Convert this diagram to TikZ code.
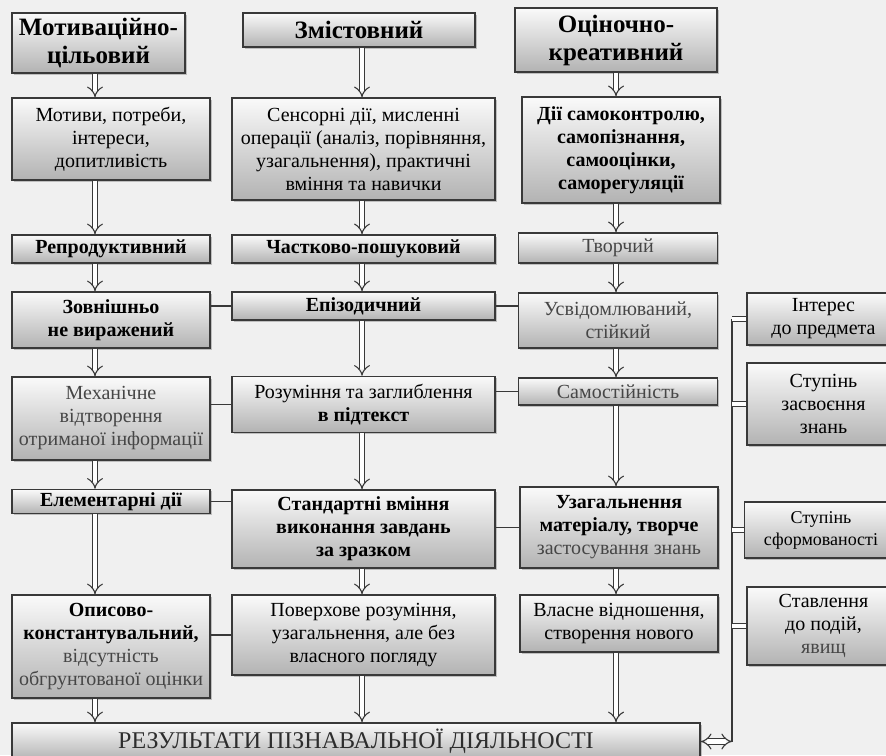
\documentclass[tikz,border=0pt]{standalone}
\usepackage{fontspec}
\setmainfont{Liberation Serif}
\usetikzlibrary{arrows.meta,shadows}

\tikzset{
  box/.style={draw=gray!45!black, line width=1.6pt, top color=gray!4, bottom color=gray!60,
    drop shadow={shadow xshift=1.5pt, shadow yshift=-1.5pt, fill=gray!60, opacity=0.8},
    align=center, inner sep=1pt, font=\fontsize{20}{23}\selectfont},
  bbox/.style={box, font=\fontsize{20}{23}\selectfont\bfseries},
  head/.style={box, font=\fontsize{25}{28}\selectfont\bfseries},
  arr/.style={draw=gray!45!black, line width=1.1pt, double=white, double distance=4.5pt, -{Implies[length=7pt, width=16pt]}},
  feed/.style={draw=gray!45!black, line width=1.1pt, double=white, double distance=4pt},
  link/.style={draw=gray!45!black, line width=1.3pt},
  faint/.style={text=gray!55!black},
}

\begin{document}
\begin{tikzpicture}[x=1pt, y=-1pt]
  \useasboundingbox (0,0) rectangle (886,755);
  \fill[gray!12] (0,0) rectangle (886,755);

  % Column heads
  \node[head, minimum width=173pt, minimum height=60pt] (hA) at (98.5,43) {Мотиваційно-\\цільовий};
  \node[head, minimum width=232pt, minimum height=34pt] (hB) at (359,30) {Змістовний};
  \node[head, minimum width=202pt, minimum height=64pt] (hC) at (616,40) {Оціночно-\\креативний};

  % First column
  \node[box, minimum width=198pt, minimum height=82pt] (motiv) at (111,139) {Мотиви, потреби,\\інтереси,\\допитливість};
  \node[bbox, minimum width=198pt, minimum height=28pt] (reprod) at (111,249) {Репродуктивний};
  \node[bbox, minimum width=198pt, minimum height=56pt] (zovn) at (111,320) {Зовнішньо\\не виражений};
  \node[box, faint, minimum width=198pt, minimum height=83pt] (mech) at (111,418.5) {Механічне\\відтворення\\отриманої інформації};
  \node[bbox, minimum width=198pt, minimum height=24pt] (elem) at (111,501.5) {Елементарні дії};
  \node[box, minimum width=198pt, minimum height=103pt] (opys) at (111,646.5)
    {\textbf{Описово-}\\\textbf{константувальний,}\\{\color{gray!55!black}відсутність}\\{\color{gray!55!black}обгрунтованої оцінки}};

  % Second column
  \node[box, minimum width=263pt, minimum height=102pt] (sens) at (363.5,149)
    {Сенсорні дії, мисленні\\операції (аналіз, порівняння,\\узагальнення), практичні\\вміння та навички};
  \node[bbox, minimum width=263pt, minimum height=28pt] (chastk) at (363.5,249) {Частково-пошуковий};
  \node[bbox, minimum width=263pt, minimum height=28pt] (epiz) at (363.5,306) {Епізодичний};
  \node[box, minimum width=263pt, minimum height=56pt] (rozum) at (363.5,404.5) {Розуміння та заглиблення\\\textbf{в підтекст}};
  \node[bbox, minimum width=263pt, minimum height=78pt] (stand) at (363.5,529) {Стандартні вміння\\виконання завдань\\за зразком};
  \node[box, minimum width=263pt, minimum height=80pt] (poverh) at (363.5,635) {Поверхове розуміння,\\узагальнення, але без\\власного погляду};

  % Third column
  \node[bbox, minimum width=198pt, minimum height=106pt] (dii) at (621,150) {Дії самоконтролю,\\самопізнання,\\самооцінки,\\саморегуляції};
  \node[box, faint, minimum width=199pt, minimum height=30pt] (tvorch) at (618,248) {Творчий};
  \node[box, faint, minimum width=199pt, minimum height=55pt] (usvid) at (618,320.5) {Усвідомлюваний,\\стійкий};
  \node[box, faint, minimum width=199pt, minimum height=27pt] (samost) at (618,391.5) {Самостійність};
  \node[bbox, minimum width=198pt, minimum height=81pt] (uzag) at (619,527.5)
    {Узагальнення\\матеріалу, творче\\{\mdseries\color{gray!55!black}застосування знань}};
  \node[box, minimum width=198pt, minimum height=57pt] (vlasne) at (619,623.5) {Власне відношення,\\створення нового};

  % Criteria on the right
  \node[box, minimum width=153pt, minimum height=52pt] (inter) at (823.5,319) {Інтерес\\до предмета};
  \node[box, minimum width=153pt, minimum height=82pt] (stup1) at (823.5,404) {Ступінь\\засвоєння\\знань};
  \node[box, minimum width=153pt, minimum height=56pt, font=\fontsize{18}{22}\selectfont] (stup2) at (821,530) {Ступінь\\сформованості};
  \node[box, minimum width=153pt, minimum height=78pt] (stavl) at (823.5,626) {Ставлення\\до подій,\\{\color{gray!55!black}явищ}};

  % Result
  \node[box, minimum width=688pt, minimum height=37pt, text=gray!35!black, font=\fontsize{24}{26}\selectfont] (result) at (356,741.5)
    {РЕЗУЛЬТАТИ ПІЗНАВАЛЬНОЇ ДІЯЛЬНОСТІ};

  % Arrow columns
  \coordinate (ax1) at (95,0);
  \coordinate (ax2) at (362,0);
  \coordinate (ax3) at (616,0);
  \coordinate (vl) at (732,0);

  \foreach \a/\b in {hA/motiv, motiv/reprod, reprod/zovn, zovn/mech, mech/elem, elem/opys, opys/result}
    \draw[arr] (\a.south -| ax1) -- (\b.north -| ax1);
  \foreach \a/\b in {hB/sens, sens/chastk, chastk/epiz, epiz/rozum, rozum/stand, stand/poverh, poverh/result}
    \draw[arr] (\a.south -| ax2) -- (\b.north -| ax2);
  \foreach \a/\b in {hC/dii, dii/tvorch, tvorch/usvid, usvid/samost, samost/uzag, uzag/vlasne, vlasne/result}
    \draw[arr] (\a.south -| ax3) -- (\b.north -| ax3);

  % Links across the rows
  \draw[link] (zovn.east |- epiz.west) -- (epiz.west);
  \draw[link] (epiz.east) -- (usvid.west |- epiz.east);
  \draw[link] (mech.east |- rozum.west) -- (rozum.west);
  \draw[link] (rozum.east |- samost.west) -- (samost.west);
  \draw[link] (elem.east) -- (stand.west |- elem.east);
  \draw[link] (stand.east |- uzag.west) -- (uzag.west);
  \draw[link] (opys.east |- poverh.west) -- (poverh.west);

  % Criteria into the result
  \draw[link] (inter.west -| vl) -- (result.east -| vl);
  \foreach \c in {inter, stup1, stup2, stavl}
    \draw[feed] (\c.west) -- (\c.west -| vl);
  \draw[arr, {Implies[length=7pt, width=16pt]}-{Implies[length=7pt, width=16pt]}] (result.east) -- (result.east -| vl);
\end{tikzpicture}
\end{document}
